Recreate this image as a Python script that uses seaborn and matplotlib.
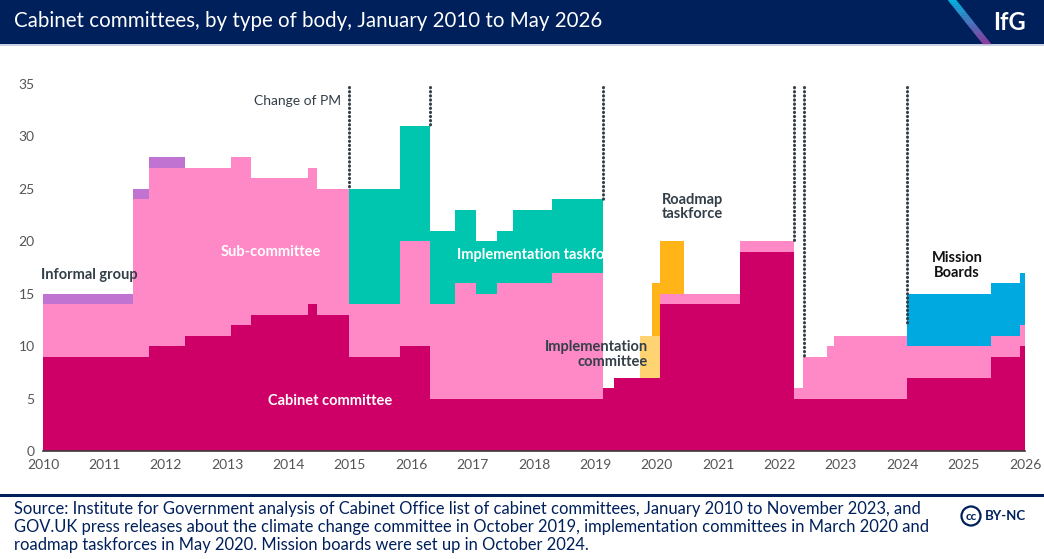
import numpy as np
import pandas as pd
import matplotlib
matplotlib.use("Agg")
import matplotlib.pyplot as plt
import seaborn as sns
from matplotlib.patches import Rectangle, Ellipse, Polygon

# ---------------- data ----------------
edges = [2010.0, 2011.47, 2011.73, 2012.31, 2013.06, 2013.39, 2014.31, 2014.47,
         2014.98, 2015.81, 2016.31, 2016.72, 2017.05, 2017.40, 2017.65, 2018.30,
         2019.13, 2019.31, 2019.73, 2019.92, 2020.05, 2020.44, 2021.36, 2022.24,
         2022.38, 2022.77, 2022.89, 2024.07, 2025.44, 2025.92, 2026.0]
cabinet        = [9, 9, 10, 11, 12, 13, 14, 13, 9, 10, 5, 5, 5, 5, 5, 5, 6, 7, 7, 7, 14, 14, 19, 5, 5, 5, 5, 7, 9, 10]
sub_committee  = [5, 15, 17, 16, 16, 13, 13, 12, 5, 10, 9, 11, 10, 11, 11, 12, 0, 0, 0, 0, 1, 1, 1, 1, 4, 5, 6, 3, 2, 2]
informal       = [1, 1, 1, 0, 0, 0, 0, 0, 0, 0, 0, 0, 0, 0, 0, 0, 0, 0, 0, 0, 0, 0, 0, 0, 0, 0, 0, 0, 0, 0]
impl_taskforce = [0, 0, 0, 0, 0, 0, 0, 0, 11, 11, 7, 7, 5, 5, 7, 7, 0, 0, 0, 0, 0, 0, 0, 0, 0, 0, 0, 0, 0, 0]
impl_committee = [0, 0, 0, 0, 0, 0, 0, 0, 0, 0, 0, 0, 0, 0, 0, 0, 0, 0, 4, 4, 0, 0, 0, 0, 0, 0, 0, 0, 0, 0]
roadmap        = [0, 0, 0, 0, 0, 0, 0, 0, 0, 0, 0, 0, 0, 0, 0, 0, 0, 0, 0, 5, 5, 0, 0, 0, 0, 0, 0, 0, 0, 0]
mission        = [0, 0, 0, 0, 0, 0, 0, 0, 0, 0, 0, 0, 0, 0, 0, 0, 0, 0, 0, 0, 0, 0, 0, 0, 0, 0, 0, 5, 5, 5]

pm_change_x   = [2014.98, 2016.31, 2019.13, 2022.24, 2022.40, 2024.07]
pm_change_end = [25, 31, 24, 20, 9, 12]

y_ticks = [0, 5, 10, 15, 20, 25, 30, 35]
x_ticks = list(range(2010, 2027))

types = ["Cabinet committee", "Sub-committee", "Informal group", "Implementation taskforce",
         "Implementation committee", "Roadmap taskforce", "Mission Boards"]
series = [cabinet, sub_committee, informal, impl_taskforce, impl_committee, roadmap, mission]
colors = ["#CE0068", "#FF88C6", "#C173D1", "#00C6B0", "#FFD372", "#FFB417", "#00A9DF"]

rows = []
for t, vals in zip(types, series):
    for i, v in enumerate(vals):
        rows.append({"mid": (edges[i] + edges[i + 1]) / 2, "count": v, "type": t})
df = pd.DataFrame(rows)

# ---------------- figure ----------------
sns.set_theme(style="white")
FONT = ["Lato", "DejaVu Sans"]
plt.rcParams["font.family"] = FONT
NAVY = "#00205B"
DARK = "#333F48"

fig = plt.figure(figsize=(10.44, 5.59), dpi=100)
ax = fig.add_axes([43 / 1044, 1 - 451 / 559, (1025 - 43) / 1044, (451 - 84) / 559])

hue_order = types[::-1]  # last level is stacked at the bottom
palette = dict(zip(types, colors))
sns.histplot(data=df, x="mid", weights="count", hue="type", hue_order=hue_order,
             palette=palette, bins=edges, multiple="stack", element="step",
             alpha=1, linewidth=0, legend=False, ax=ax)

ax.set_xlim(2010, 2026)
ax.set_ylim(0, 35)
ax.set_xticks(x_ticks)
ax.set_yticks(y_ticks)
ax.set_xlabel("")
ax.set_ylabel("")
ax.tick_params(axis="both", length=0, labelsize=10, labelcolor="#555555", pad=6)
for s in ["top", "right", "left"]:
    ax.spines[s].set_visible(False)
ax.spines["bottom"].set_color("#3a3a3a")
ax.spines["bottom"].set_linewidth(1.2)
ax.grid(False)

# change-of-PM dotted lines
for x, yend in zip(pm_change_x, pm_change_end):
    ax.plot([x, x], [34.75, yend], color=DARK, linewidth=2.2,
            linestyle=(0, (0.1, 1.25)), dash_capstyle="round", zorder=5,
            clip_on=False)
ax.text(2014.86, 33.4, "Change of PM", ha="right", va="center", fontsize=10, color=DARK)

# series labels
lab = dict(fontsize=10.5, fontweight="bold")
ax.text(2009.97, 16.8, "Informal group", ha="left", va="center", color=DARK, **lab)
ax.text(2013.72, 19.0, "Sub-committee", ha="center", va="center", color="white", **lab)
ax.text(2016.745, 18.7, "Implementation taskforce", ha="left", va="center", color="white", **lab)
ax.text(2019.86, 9.2, "Implementation\ncommittee", ha="right", va="center",
        multialignment="right", color=DARK, linespacing=1.05, **lab)
ax.text(2020.085, 23.25, "Roadmap\ntaskforce", ha="left", va="center",
        multialignment="left", color=DARK, linespacing=1.05, **lab)
ax.text(2024.89, 17.7, "Mission\nBoards", ha="center", va="center",
        multialignment="center", color="#111111", linespacing=1.05, **lab)
ax.text(2014.68, 4.8, "Cabinet committee", ha="center", va="center", color="white", **lab)

# ---------------- header ----------------
fig.patches.append(Rectangle((0, 1 - 44 / 559), 1, 44 / 559, transform=fig.transFigure,
                             facecolor=NAVY, edgecolor="none", zorder=0))
fig.patches.append(Rectangle((0, 1 - 46 / 559), 1, 2 / 559, transform=fig.transFigure,
                             facecolor="#C9D3E3", edgecolor="none", zorder=0))
fig.text(14 / 1044, 1 - 21 / 559, "Cabinet committees, by type of body, January 2010 to May 2026",
         ha="left", va="center", fontsize=14.8, color="white")
# logo stripe with gradient
n = 20
x0t, x1t = 948, 956
x0b, x1b = 983, 991
c_top = np.array([0x00, 0xB5, 0xE2]) / 255
c_bot = np.array([0x8E, 0x3B, 0x9E]) / 255
for k in range(n):
    f0, f1 = k / n, (k + 1) / n
    ya, yb = 44 * f0, 44 * f1
    xa0 = x0t + (x0b - x0t) * f0
    xa1 = x1t + (x1b - x1t) * f0
    xb0 = x0t + (x0b - x0t) * f1
    xb1 = x1t + (x1b - x1t) * f1
    col = c_top + (c_bot - c_top) * (f0 + f1) / 2
    pts = [(xa0 / 1044, 1 - ya / 559), (xa1 / 1044, 1 - ya / 559),
           (xb1 / 1044, 1 - yb / 559), (xb0 / 1044, 1 - yb / 559)]
    fig.patches.append(Polygon(pts, closed=True, transform=fig.transFigure,
                               facecolor=col, edgecolor=col, linewidth=0.3, zorder=1))
fig.text(1009 / 1044, 1 - 22 / 559, "IfG", ha="center", va="center", fontsize=17,
         fontweight="bold", color="white")

# ---------------- footer ----------------
fig.patches.append(Rectangle((0, 1 - 497 / 559), 1, 3 / 559, transform=fig.transFigure,
                             facecolor=NAVY, edgecolor="none", zorder=0))
source = ("Source: Institute for Government analysis of Cabinet Office list of cabinet committees, "
          "January 2010 to November 2023, and\n"
          "GOV.UK press releases about the climate change committee in October 2019, "
          "implementation committees in March 2020 and\n"
          "roadmap taskforces in May 2020. Mission boards were set up in October 2024.")
fig.text(14 / 1044, 1 - 501 / 559, source, ha="left", va="top", fontsize=11.9,
         color=NAVY, linespacing=1.16)
fig.patches.append(Ellipse((971 / 1044, 1 - 516 / 559), 19 / 1044, 19 / 559,
                           transform=fig.transFigure,
                           facecolor="white", edgecolor=NAVY, linewidth=1.6, zorder=2))
fig.text(971 / 1044, 1 - 516.5 / 559, "cc", ha="center", va="center", fontsize=8.5,
         fontweight="bold", color=NAVY, zorder=3)
fig.text(985 / 1044, 1 - 516 / 559, "BY-NC", ha="left", va="center", fontsize=9.5,
         fontweight="bold", color=NAVY)

fig.savefig("out.png", dpi=100)
